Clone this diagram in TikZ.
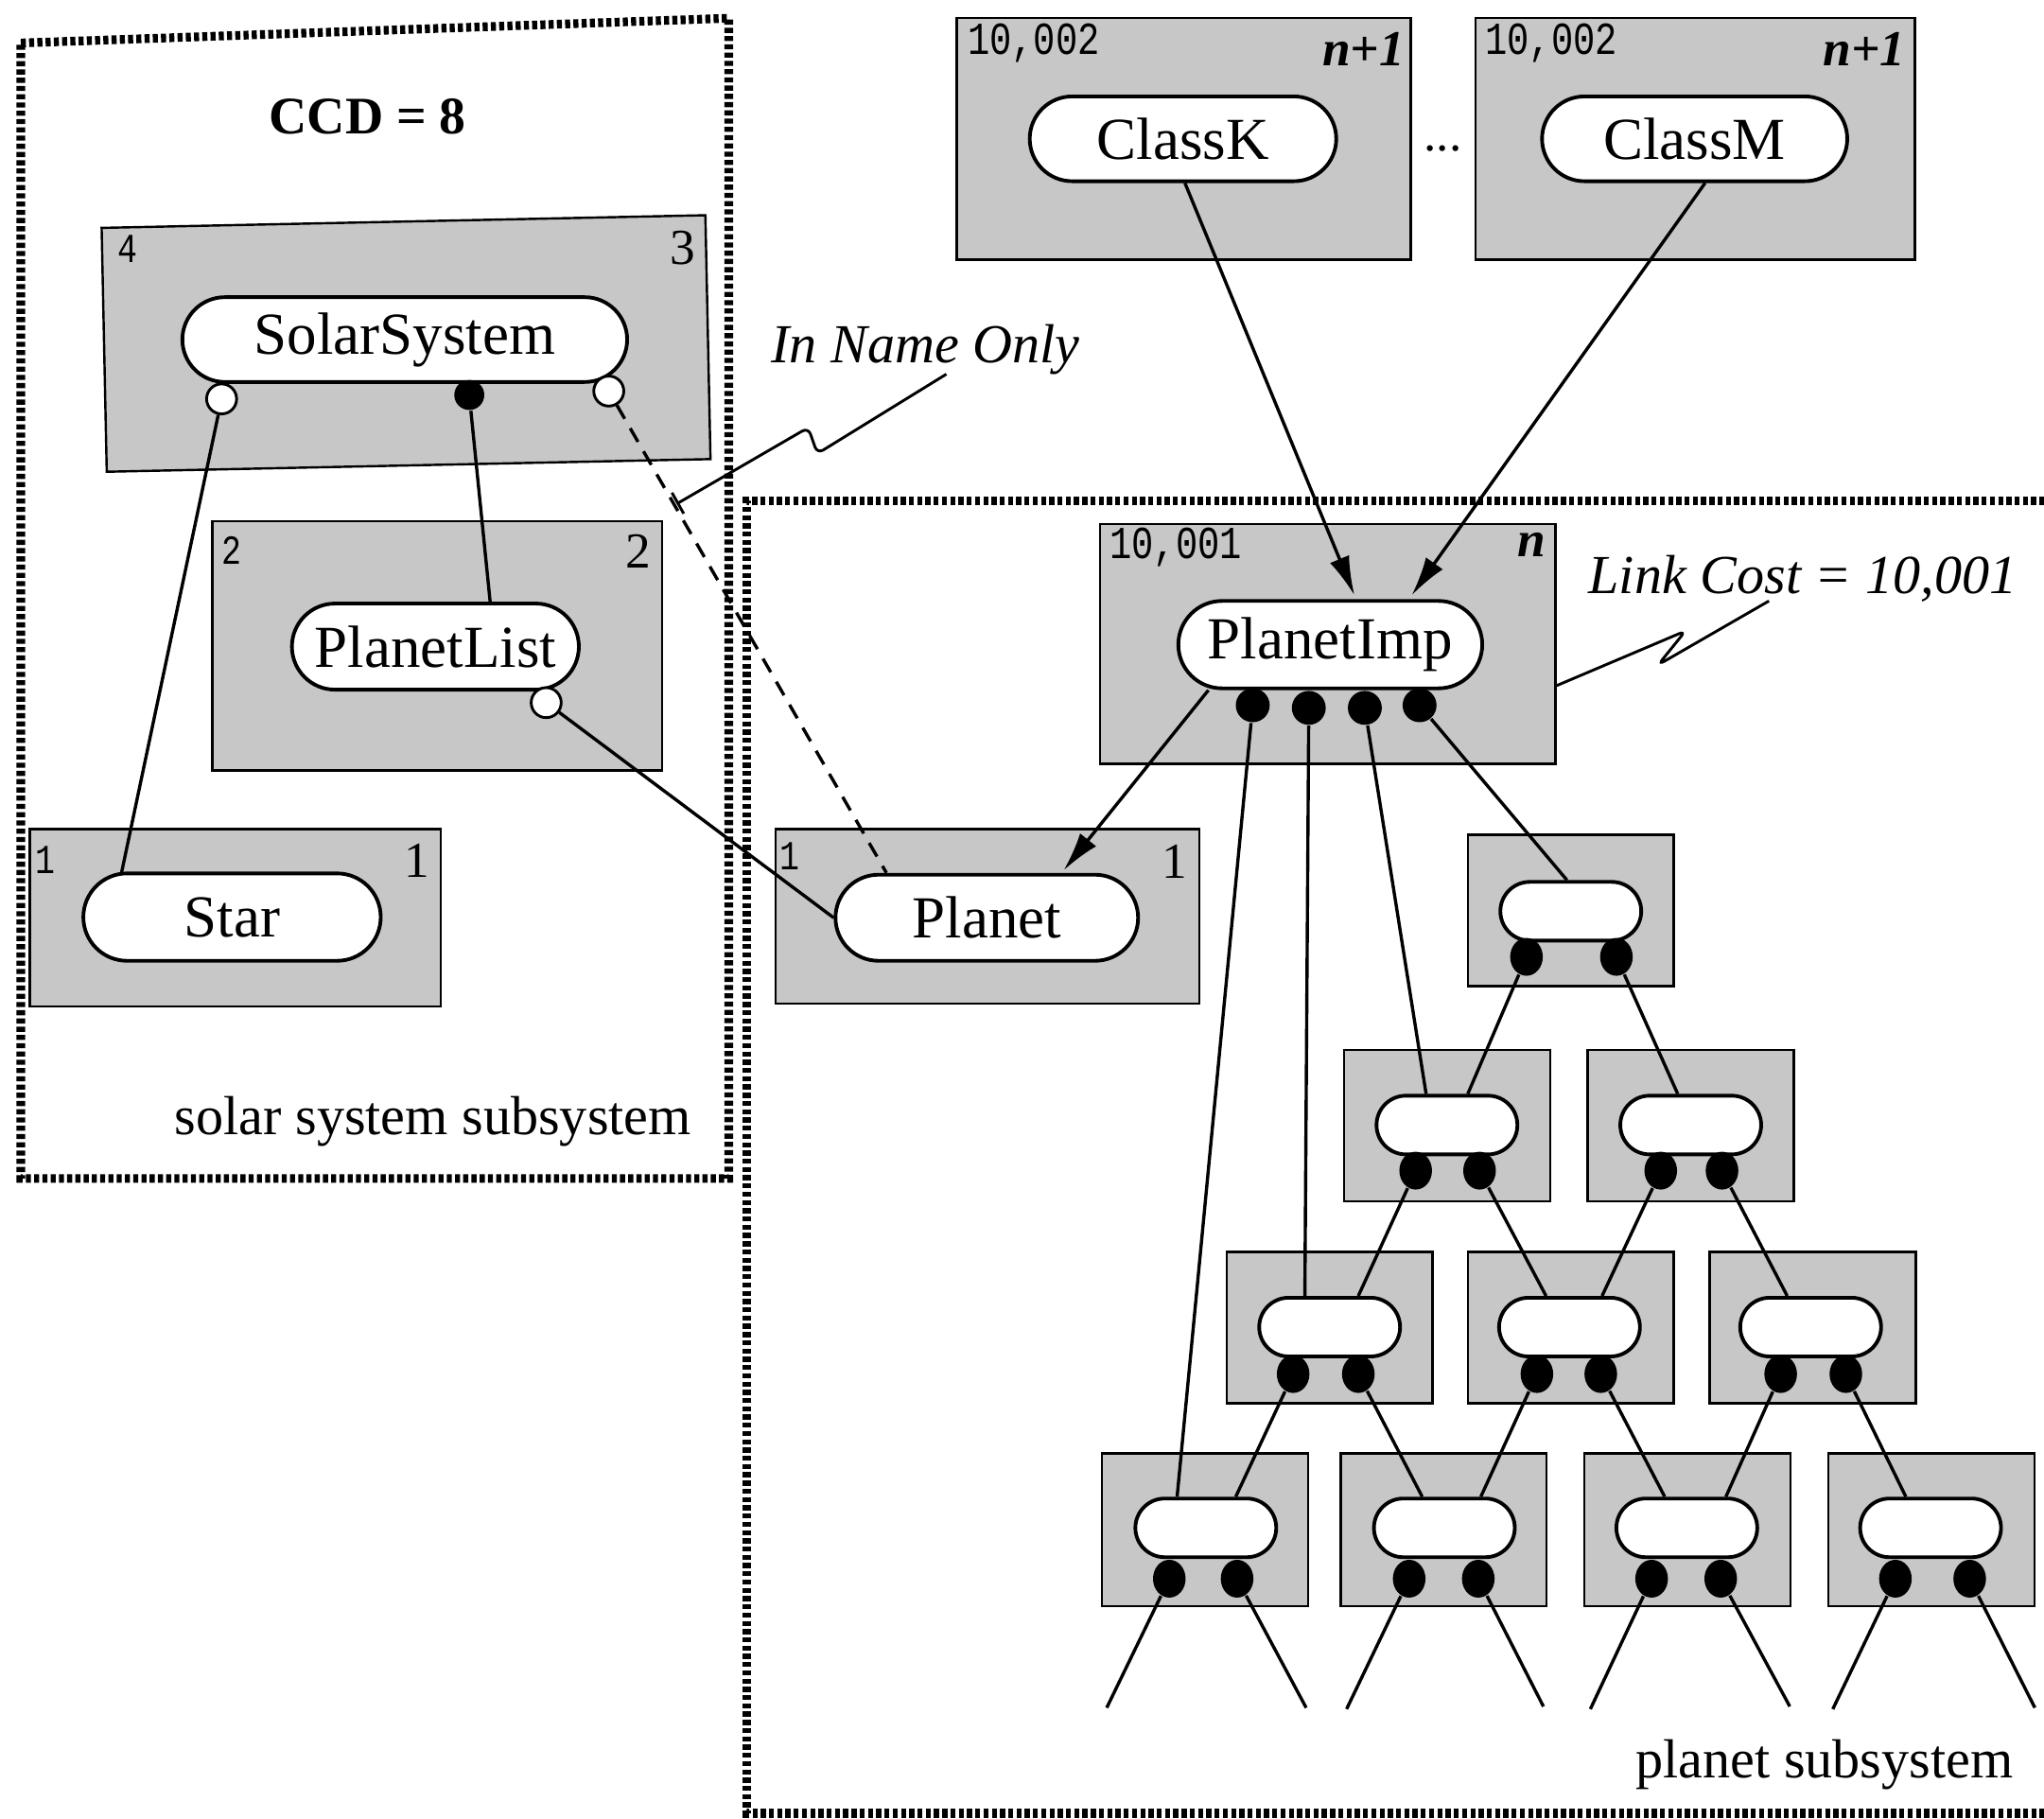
\documentclass[tikz,border=0pt]{standalone}
\usepackage{fontspec}
\setmainfont{Liberation Serif}
\newfontfamily\monof[FakeStretch=0.8]{Liberation Mono}
\usetikzlibrary{shapes.misc,shapes.geometric,arrows.meta,calc}
\tikzset{
  hatch/.style={line width=1.9pt, dash pattern=on 1.1pt off 0.7pt},
  cbox/.style={draw=black, line width=0.5pt, fill=black!22, inner sep=0pt},
  tbox/.style={cbox, minimum width=1.58cm, minimum height=1.16cm},
  pill/.style={rounded rectangle, draw=black, line width=0.8pt, fill=white, inner sep=0pt, font=\fontsize{13}{15}\selectfont},
  tpill/.style={pill, minimum width=1.08cm, minimum height=0.45cm},
  odot/.style={circle, draw=black, line width=0.6pt, fill=white, minimum size=0.23cm, inner sep=0pt},
  fdot/.style={circle, fill=black, minimum size=0.23cm, inner sep=0pt},
  pdot/.style={circle, fill=black, minimum size=0.26cm, inner sep=0pt},
  tdot/.style={ellipse, fill=black, minimum width=0.25cm, minimum height=0.29cm, inner sep=0pt},
  conn/.style={line width=0.7pt},
  arr/.style={line width=0.7pt, -{Latex[length=8.5pt,width=4.5pt]}},
  smallnum/.style={font=\monof\fontsize{9}{10}\selectfont, inner sep=0pt},
  costnum/.style={font=\monof\fontsize{10}{11}\selectfont, inner sep=0pt},
  bignum/.style={font=\fontsize{11}{12}\selectfont, inner sep=0pt},
  levnum/.style={font=\fontsize{11}{12}\selectfont\bfseries\itshape, inner sep=0pt},
  lbl/.style={font=\fontsize{12}{14}\selectfont, inner sep=0pt},
  ilbl/.style={font=\fontsize{12}{14}\selectfont\itshape, inner sep=0pt},
  callout/.style={line width=0.6pt, rounded corners=1.5pt}
}
\begin{document}
\begin{tikzpicture}[x=0.01cm, y=-0.01cm]
\clip (0,0) rectangle (1568,1395);
\fill[white] (0,0) rectangle (1568,1395);

% subsystem borders
\draw[hatch] (16,33) -- (559,14) -- (559,904) -- (16,904) -- cycle;
\draw[hatch] (1600,384) -- (573,384) -- (573,1391) -- (1600,1391);

% component boxes
\node[cbox, minimum width=4.63cm, minimum height=1.87cm, rotate=1.2] (bSS) at (311.5,263.5) {};
\node[cbox, minimum width=3.45cm, minimum height=1.91cm] (bPL) at (335.5,495.5) {};
\node[cbox, minimum width=3.15cm, minimum height=1.36cm] (bST) at (180.5,704) {};
\node[cbox, minimum width=3.25cm, minimum height=1.34cm] (bPN) at (757.5,703) {};
\node[cbox, minimum width=3.49cm, minimum height=1.84cm] (bPI) at (1018.5,494) {};
\node[cbox, minimum width=3.48cm, minimum height=1.85cm] (bCK) at (908,106.5) {};
\node[cbox, minimum width=3.37cm, minimum height=1.85cm] (bCM) at (1300.5,106.5) {};
\node[tbox] (bT1) at (1205,698.5) {};
\node[tbox] (bT2a) at (1110,863.5) {};
\node[tbox] (bT2b) at (1297,863.5) {};
\node[tbox] (bT3a) at (1020,1018.5) {};
\node[tbox] (bT3b) at (1205,1018.5) {};
\node[tbox] (bT3c) at (1390.5,1018.5) {};
\node[tbox, minimum height=1.17cm] (bT4a) at (924.5,1173.5) {};
\node[tbox, minimum height=1.17cm] (bT4b) at (1107.5,1173.5) {};
\node[tbox, minimum height=1.17cm] (bT4c) at (1294.5,1173.5) {};
\node[tbox, minimum height=1.17cm] (bT4d) at (1481.5,1173.5) {};

% corner labels
\node[smallnum] (nSSa) at (98,191) {4};
\node[bignum] (nSSb) at (524,190) {3};
\node[smallnum] (nPLa) at (178,422) {2};
\node[bignum] (nPLb) at (490,423) {2};
\node[smallnum] (nSTa) at (35,660) {1};
\node[bignum] (nSTb) at (320,660) {1};
\node[smallnum] (nPNa) at (606,657) {1};
\node[bignum] (nPNb) at (901,661) {1};
\node[costnum] (nPIa) at (902,420) {10,001};
\node[levnum] (nPIb) at (1175,418) {n};
\node[costnum] (nCKa) at (793,33) {10,002};
\node[levnum] (nCKb) at (1046,38) {\textit{n}+1};
\node[costnum] (nCMa) at (1190,33) {10,002};
\node[levnum] (nCMb) at (1430,38) {\textit{n}+1};

% texts
\node[lbl, font=\fontsize{11.5}{13}\selectfont\bfseries, anchor=base] (ccd) at (282,103) {CCD = 8};
\node[lbl, anchor=base east] (solar) at (531,870) {solar system subsystem};
\node[lbl, anchor=base east] (planetsub) at (1545,1364) {planet subsystem};
\node[ilbl, anchor=base west] (ino) at (591,278) {In Name Only};
\node[ilbl, anchor=base west] (lcost) at (1218,455) {Link Cost = 10,001};
\node[lbl, font=\fontsize{11}{12}\selectfont] (dots) at (1107,114) {...};

% pills
\node[pill, minimum width=3.41cm, minimum height=0.65cm] (pSS) at (310.5,260.5) {SolarSystem};
\node[pill, minimum width=2.20cm, minimum height=0.66cm] (pPL) at (334,496) {PlanetList};
\node[pill, minimum width=2.28cm, minimum height=0.67cm] (pST) at (178,703.5) {Star};
\node[pill, minimum width=2.32cm, minimum height=0.66cm] (pPN) at (757,704) {Planet};
\node[pill, minimum width=2.35cm, minimum height=0.65cm] (pCK) at (907.5,106.5) {ClassK};
\node[pill, minimum width=2.34cm, minimum height=0.65cm] (pCM) at (1300,106.5) {ClassM};
\node[pill, minimum width=2.33cm, minimum height=0.67cm] (pPI) at (1020.5,494.5) {PlanetImp};
\node[tpill] (t1) at (1205,699) {};
\node[tpill] (t2a) at (1110,863) {};
\node[tpill] (t2b) at (1297,863) {};
\node[tpill] (t3a) at (1020,1018) {};
\node[tpill] (t3b) at (1204,1018) {};
\node[tpill] (t3c) at (1389,1018) {};
\node[tpill] (t4a) at (925,1172) {};
\node[tpill] (t4b) at (1108,1172) {};
\node[tpill] (t4c) at (1294,1172) {};
\node[tpill] (t4d) at (1481,1172) {};

% ports
\node[odot] (ssL) at (170,306) {};
\node[fdot] (ssM) at (360,303) {};
\node[odot] (ssR) at (467,300) {};
\node[odot] (plc) at (419,539) {};
\node[pdot] (pi1) at (961,541) {};
\node[pdot] (pi2) at (1004,543) {};
\node[pdot] (pi3) at (1047,543) {};
\node[pdot] (pi4) at (1089,541) {};
\node[tdot] (t1d1) at (1171,734) {};
\node[tdot] (t1d2) at (1240,734) {};
\node[tdot] (t2ad1) at (1086,898) {};
\node[tdot] (t2ad2) at (1135,898) {};
\node[tdot] (t2bd1) at (1274,898) {};
\node[tdot] (t2bd2) at (1321,898) {};
\node[tdot] (t3ad1) at (992,1054) {};
\node[tdot] (t3ad2) at (1042,1054) {};
\node[tdot] (t3bd1) at (1179,1054) {};
\node[tdot] (t3bd2) at (1228,1054) {};
\node[tdot] (t3cd1) at (1366,1054) {};
\node[tdot] (t3cd2) at (1416,1054) {};
\node[tdot] (t4ad1) at (897,1211) {};
\node[tdot] (t4ad2) at (949,1211) {};
\node[tdot] (t4bd1) at (1081,1211) {};
\node[tdot] (t4bd2) at (1134,1211) {};
\node[tdot] (t4cd1) at (1267,1211) {};
\node[tdot] (t4cd2) at (1320,1211) {};
\node[tdot] (t4dd1) at (1454,1211) {};
\node[tdot] (t4dd2) at (1511,1211) {};

% free ends
\coordinate (e1) at (849,1310);
\coordinate (e2) at (1002,1310);
\coordinate (e3) at (1033,1311);
\coordinate (e4) at (1184,1309);
\coordinate (e5) at (1220,1311);
\coordinate (e6) at (1373,1309);
\coordinate (e7) at (1406,1311);
\coordinate (e8) at (1561,1310);

% solar connectors
\draw[conn] (ssL) -- ($(pST.north)+(-85,2)$);
\draw[conn] (ssM) -- ($(pPL.north)+(42,0)$);
\draw[conn] (plc) -- (pPN.west);
\draw[conn, dash pattern=on 3.4pt off 2.4pt] (ssR) -- ($(pPN.north)+(-77,0)$);

% dependency arrows
\draw[arr] ($(pCK.south)+(1.5,0)$) -- ($(pPI.north)+(18.5,-3)$);
\draw[arr] ($(pCM.south)+(8,0)$) -- ($(pPI.north)+(62.5,-3)$);
\draw[arr] ($(pPI.south)+(-93.5,0)$) -- ($(pPN.north)+(59,-2)$);

% tree connectors
\draw[conn] (pi1) -- ($(t4a.north)+(-22,0)$);
\draw[conn] (pi2) -- ($(t3a.north)+(-19,0)$);
\draw[conn] (pi3) -- ($(t2a.north)+(-16,0)$);
\draw[conn] (pi4) -- ($(t1.north)+(-3,0)$);
\draw[conn] (t1d1) -- ($(t2a.north)+(16,0)$);
\draw[conn] (t1d2) -- ($(t2b.north)+(-10,0)$);
\draw[conn] (t2ad1) -- ($(t3a.north)+(22,0)$);
\draw[conn] (t2ad2) -- ($(t3b.north)+(-18,0)$);
\draw[conn] (t2bd1) -- ($(t3b.north)+(25,0)$);
\draw[conn] (t2bd2) -- ($(t3c.north)+(-18,0)$);
\draw[conn] (t3ad1) -- ($(t4a.north)+(23,0)$);
\draw[conn] (t3ad2) -- ($(t4b.north)+(-17,0)$);
\draw[conn] (t3bd1) -- ($(t4b.north)+(28,0)$);
\draw[conn] (t3bd2) -- ($(t4c.north)+(-17,0)$);
\draw[conn] (t3cd1) -- ($(t4c.north)+(30,0)$);
\draw[conn] (t3cd2) -- ($(t4d.north)+(-19,0)$);
\draw[conn] (t4ad1) -- (e1);
\draw[conn] (t4ad2) -- (e2);
\draw[conn] (t4bd1) -- (e3);
\draw[conn] (t4bd2) -- (e4);
\draw[conn] (t4cd1) -- (e5);
\draw[conn] (t4cd2) -- (e6);
\draw[conn] (t4dd1) -- (e7);
\draw[conn] (t4dd2) -- (e8);

% callouts
\coordinate (inoA) at (726,287);
\coordinate (inoD) at (520,386);
\draw[callout] (inoA) -- (627,348) -- (620,328) -- (inoD);
\draw[line width=0.6pt] (515.5,378) -- (524.5,394);
\coordinate (lcA) at (1357,461);
\draw[callout] (lcA) -- (1272,510) -- (1293,484) -- ($(bPI.east)+(0,32)$);
\end{tikzpicture}
\end{document}
